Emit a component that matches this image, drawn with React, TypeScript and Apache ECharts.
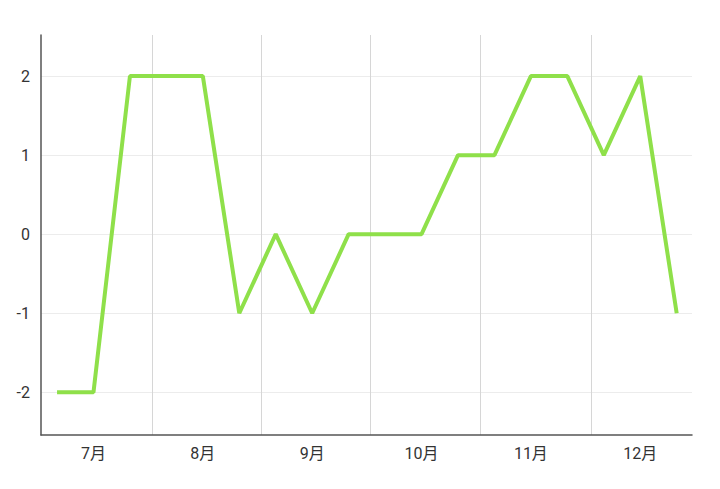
import React, { useEffect, useRef } from "react";
import * as echarts from "echarts";

const monthLabels = ["7月", "8月", "9月", "10月", "11月", "12月"];
const pointIndex = [0, 1, 2, 3, 4, 5, 6, 7, 8, 9, 10, 11, 12, 13, 14, 15, 16, 17];
const values = [-2, -2, 2, 2, 2, -1, 0, -1, 0, 0, 0, 1, 1, 2, 2, 1, 2, -1];
const labelPositions = [1, 4, 7, 10, 13, 16];
const dividerPositions = [2.6, 5.6, 8.6, 11.6, 14.65];
const yTicks = [-2, -1, 0, 1, 2];

export default function App() {
  const ref = useRef<HTMLDivElement>(null);
  useEffect(() => {
    if (!ref.current) return;
    const chart = echarts.init(ref.current, undefined, { renderer: "svg" });
    const font = "Roboto, 'Noto Sans CJK SC', sans-serif";
    chart.setOption({
      animation: false,
      backgroundColor: "#ffffff",
      grid: { left: 41, right: 28, top: 35, bottom: 54, containLabel: false, outerBoundsMode: "none" },
      xAxis: {
        type: "value",
        min: -0.44,
        max: 17.42,
        axisLine: { show: true, onZero: false, lineStyle: { color: "#555", width: 1.5 } },
        axisTick: { show: false, customValues: dividerPositions },
        splitLine: { show: true, lineStyle: { color: "#d6d6d6", width: 1 } },
        axisLabel: {
          customValues: labelPositions,
          formatter: (v: number) => monthLabels[labelPositions.indexOf(Math.round(v))] ?? "",
          color: "#333",
          fontSize: 16,
          fontFamily: font,
          margin: 10,
        },
      },
      yAxis: {
        type: "value",
        min: -2.54,
        max: 2.52,
        axisLine: { show: true, onZero: false, lineStyle: { color: "#555", width: 1.5 } },
        axisTick: { show: false, customValues: yTicks },
        splitLine: { show: true, lineStyle: { color: "#ececec", width: 1 } },
        axisLabel: {
          customValues: yTicks,
          color: "#333",
          fontSize: 16,
          fontFamily: font,
          margin: 11,
        },
      },
      series: [
        {
          type: "line",
          data: pointIndex.map((x, i) => [x, values[i]]),
          showSymbol: false,
          lineStyle: { color: "#8fe04a", width: 4 },
          itemStyle: { color: "#8fe04a" },
        },
      ],
    });
    return () => chart.dispose();
  }, []);
  return <div ref={ref} style={{ position: "absolute", left: 0, top: 0, width: 720, height: 489 }} />;
}
